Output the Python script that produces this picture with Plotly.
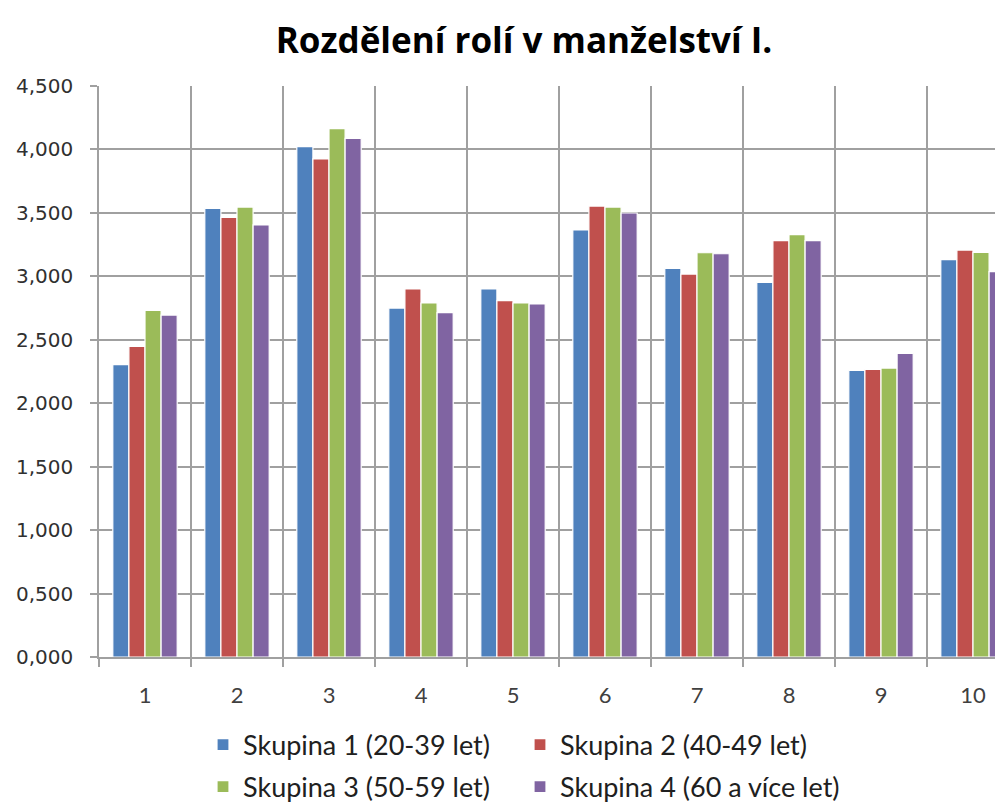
import plotly.graph_objects as go

categories = [1, 2, 3, 4, 5, 6, 7, 8, 9, 10]
tick_labels = ["1", "2", "3", "4", "5", "6", "7", "8", "9", "10"]

skupina1 = [2.304, 3.536, 4.022, 2.750, 2.900, 3.365, 3.063, 2.953, 2.259, 3.131]
skupina2 = [2.448, 3.465, 3.925, 2.900, 2.808, 3.554, 3.018, 3.281, 2.267, 3.207]
skupina3 = [2.732, 3.546, 4.164, 2.790, 2.790, 3.546, 3.186, 3.328, 2.277, 3.189]
skupina4 = [2.695, 3.405, 4.088, 2.714, 2.782, 3.499, 3.178, 3.281, 2.393, 3.037]

series_names = ["Skupina 1 (20-39 let)", "Skupina 2 (40-49 let)",
                "Skupina 3 (50-59 let)", "Skupina 4 (60 a více let)"]
colors = ["#4F81BD", "#C0504D", "#9BBB59", "#8064A2"]
legend_ids = ["legend", "legend2", "legend3", "legend4"]

fig = go.Figure()
for name, vals, col, lg in zip(series_names, [skupina1, skupina2, skupina3, skupina4], colors, legend_ids):
    fig.add_trace(go.Bar(
        x=categories, y=vals, name=name, legend=lg, showlegend=True,
        marker=dict(color=col, line=dict(color="white", width=1.2)),
    ))

grid_col = "#A0A0A0"
font_main = "Lato, Calibri, sans-serif"

# page body has an 8px margin, so the figure is shifted by 8px
W, H = 995, 795
PL, PT, PW, PH = 99, 86, 904, 571  # plot area in page pixels


def legend_at(left_px, mid_px):
    return dict(orientation="h", x=(left_px - PL) / PW, xanchor="left",
                y=(PT + PH - mid_px) / PH, yanchor="middle", itemwidth=30,
                tracegroupgap=0,
                font=dict(family=font_main, size=27, color="#202020"))


fig.update_layout(
    width=W, height=H,
    showlegend=True,
    margin=dict(l=91, r=0, t=78, b=146, autoexpand=False),
    paper_bgcolor="white", plot_bgcolor="white",
    separators=",.",
    barmode="group", bargap=0.3, bargroupgap=0.0,
    title=dict(text="<b>Rozdělení rolí v manželství I.</b>",
               x=516 / W, xanchor="center", y=1 - 33 / H, yanchor="middle",
               font=dict(family="Open Sans, sans-serif", size=35, color="black")),
    xaxis=dict(
        range=[0.5, 0.5 + 904 / 92],
        tickvals=categories, ticktext=tick_labels,
        showgrid=False, ticks="", zeroline=False,
        showline=True, linecolor=grid_col, linewidth=1.5,
        tickfont=dict(family=font_main, size=22, color="#404040"),
        ticklabelstandoff=18,
        minor=dict(tickvals=[c - 0.5 for c in categories] + [10.5],
                   showgrid=True, gridcolor=grid_col, gridwidth=1.5,
                   ticks="outside", ticklen=8, tickcolor=grid_col, tickwidth=1.5),
    ),
    yaxis=dict(
        range=[0, 4.5], dtick=0.5, tickformat=".3f",
        showgrid=True, gridcolor=grid_col, gridwidth=1.5,
        zeroline=False, showline=True, linecolor=grid_col, linewidth=1.5,
        ticks="outside", ticklen=7, tickcolor=grid_col, tickwidth=1.5,
        tickfont=dict(family="DejaVu Sans, Verdana, sans-serif", size=20, color="#303030"),
        ticklabelstandoff=13,
    ),
    legend=legend_at(203, 745),
    legend2=legend_at(520, 745),
    legend3=legend_at(203, 787),
    legend4=legend_at(520, 787),
)

fig.write_html("out.html")
